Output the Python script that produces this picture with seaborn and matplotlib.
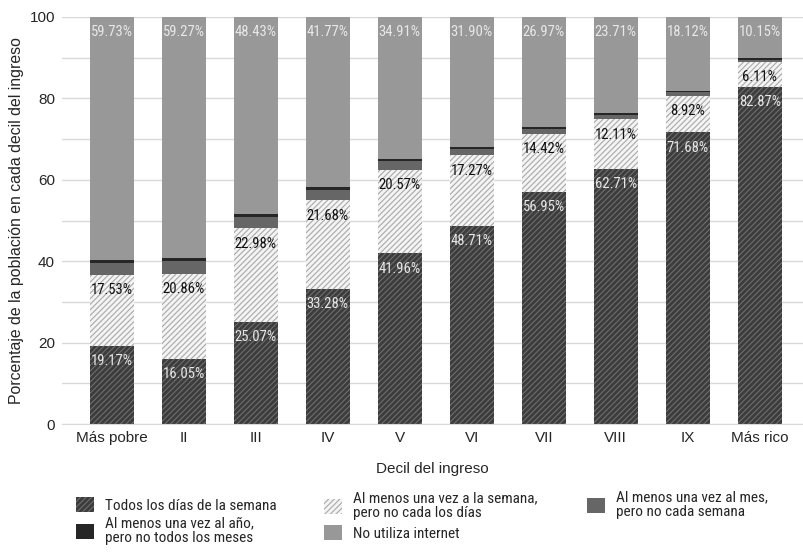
import numpy as np
import pandas as pd
import seaborn as sns
import matplotlib.pyplot as plt
from matplotlib.patches import Patch

deciles = ["Más pobre", "II", "III", "IV", "V", "VI", "VII", "VIII", "IX", "Más rico"]
diario = [19.17, 16.05, 25.07, 33.28, 41.96, 48.71, 56.95, 62.71, 71.68, 82.87]
semanal = [17.53, 20.86, 22.98, 21.68, 20.57, 17.27, 14.42, 12.11, 8.92, 6.11]
mensual = [2.9, 3.2, 2.8, 2.6, 2.0, 1.6, 1.2, 1.0, 0.9, 0.5]
anual = [0.67, 0.62, 0.72, 0.67, 0.56, 0.52, 0.46, 0.47, 0.38, 0.37]
no_usa = [59.73, 59.27, 48.43, 41.77, 34.91, 31.90, 26.97, 23.71, 18.12, 10.15]

series_names = ["Todos los días de la semana",
                "Al menos una vez a la semana,\npero no cada los días",
                "Al menos una vez al mes,\npero no cada semana",
                "Al menos una vez al año,\npero no todos los meses",
                "No utiliza internet"]

sns.set_style("white")
plt.rcParams['font.family'] = ['Liberation Sans', 'DejaVu Sans']
plt.rcParams['hatch.linewidth'] = 0.8
narrow = ['Roboto Condensed', 'Archivo Narrow', 'DejaVu Sans']

df = pd.DataFrame({"decil": deciles, "diario": diario, "semanal": semanal,
                   "mensual": mensual, "anual": anual, "no_usa": no_usa})

W, H = 804, 553
fig = plt.figure(figsize=(W / 100, H / 100), dpi=100)
ax = fig.add_axes([62 / W, 1 - 424 / H, 741 / W, 407 / H])

# (column, face, hatch colour, hatch)
styles = [("diario", "#3c3c3c", "#6e6e6e", "//////"),
          ("semanal", "#f4f4f4", "#a8a8a8", "//////"),
          ("mensual", "#666666", "#666666", None),
          ("anual", "#262626", "#262626", None),
          ("no_usa", "#989898", "#989898", None)]

bottom = np.zeros(len(deciles))
handles = []
for (col, face, hcol, hatch), name in zip(styles, series_names):
    sns.barplot(data=df, x="decil", y=col, ax=ax, bottom=bottom, width=0.61,
                color=face, edgecolor=hcol, hatch=hatch, linewidth=0,
                saturation=1, errorbar=None)
    handles.append(Patch(facecolor=face, edgecolor=hcol, hatch=hatch, linewidth=0, label=name))
    bottom = bottom + df[col].values
    if col in ("diario", "semanal", "no_usa"):
        txt_color = "#111111" if col == "semanal" else "#e8e8e8"
        for i, (b, v) in enumerate(zip(bottom, df[col].values)):
            ax.annotate(f"{v:.2f}%", xy=(i, b), xytext=(0, -11), textcoords="offset points",
                        ha="center", va="center", fontsize=10.5, color=txt_color, family=narrow)

ax.set_xlim(-0.69, 9.6)
ax.set_ylim(0, 100)
ax.set_yticks([0, 20, 40, 60, 80, 100])
ax.set_yticks(np.arange(10, 100, 20), minor=True)
ax.set_xticks(np.arange(-0.5, 10, 1), minor=True)
ax.grid(axis="y", which="both", color="#d9d9d9", linewidth=1)
ax.set_axisbelow(True)
for s in ["top", "right", "left"]:
    ax.spines[s].set_visible(False)
ax.spines["bottom"].set_color("#d9d9d9")
ax.tick_params(axis="y", which="both", length=0, labelsize=11, pad=5)
ax.tick_params(axis="x", which="major", length=0, labelsize=11, pad=5)
ax.tick_params(axis="x", which="minor", length=3, color="#d9d9d9")
ax.set_xlabel("Decil del ingreso", fontsize=11, labelpad=12)
ax.set_ylabel("Porcentaje de la población en cada decil del ingreso", fontsize=11.4, labelpad=4)

# legend: one entry per slot, (series index, handle left x, centre y) in pixels
slots = [(0, 76, 505), (3, 76, 531), (1, 324, 506), (4, 324, 533), (2, 587, 505)]
for idx, x_px, y_px in slots:
    leg = fig.legend([handles[idx]], [series_names[idx]], loc="center left",
                     bbox_to_anchor=(x_px / W, 1 - y_px / H), frameon=False,
                     borderpad=0, borderaxespad=0, handlelength=1.15, handleheight=1.1,
                     handletextpad=0.75, prop={"family": narrow, "size": 11})
    for t in leg.get_texts():
        t.set_linespacing(1.05)

fig.savefig("out.png", dpi=100)
